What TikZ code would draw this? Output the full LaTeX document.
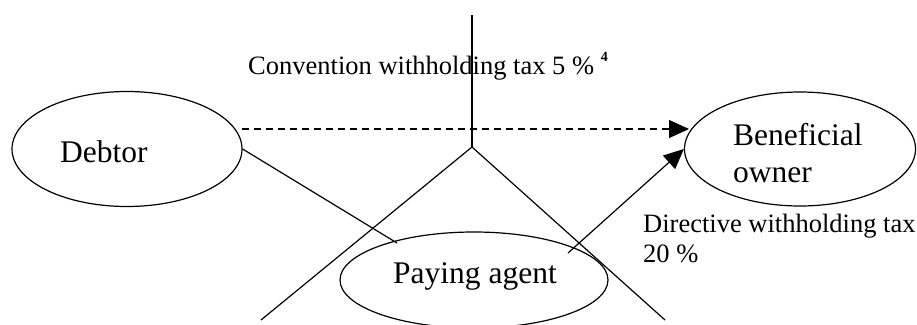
\documentclass[tikz,border=0pt]{standalone}
\usepackage{fontspec}
\setmainfont{Liberation Serif}
\usetikzlibrary{shapes.geometric,arrows.meta}
\tikzset{
  party/.style={draw, shape=ellipse, inner sep=0pt, line width=1.2pt},
  bigtxt/.style={inner sep=0pt, anchor=base west, font=\fontsize{31.5}{37}\selectfont},
  smalltxt/.style={inner sep=0pt, anchor=base west, font=\fontsize{26.5}{30}\selectfont},
  conn/.style={line width=1.2pt},
  tip/.style={-{Triangle[length=20pt,width=18pt]}}
}
\begin{document}
\begin{tikzpicture}[x=1pt,y=-1pt]
\useasboundingbox (0,0) rectangle (917,324);
% parties
\node[party, minimum width=230pt, minimum height=115pt] (debtor) at (127,149) {};
\node[party, minimum width=231pt, minimum height=114pt] (bo) at (800,149) {};
\node[party, minimum width=268pt, minimum height=96pt] (pa) at (474,280) {};
\node[bigtxt] (debtorT) at (60,162) {Debtor};
\node[bigtxt] (boT1) at (733,145) {Beneficial};
\node[bigtxt] (boT2) at (733,182) {owner};
\node[bigtxt] (paT) at (393,283) {Paying agent};
% labels
\node[smalltxt] (conv) at (248,74) {Convention withholding tax 5 \% \raisebox{13pt}{\fontsize{14}{14}\selectfont\bfseries 4}};
\node[smalltxt] (dir1) at (643,232) {Directive withholding tax};
\node[smalltxt] (dir2) at (643,262) {20 \%};
% border cross
\coordinate (top) at (472,15);
\coordinate (apex) at (472,147);
\coordinate (bl) at (261,320);
\coordinate (br) at (665,320);
\draw[conn] (top) -- (apex);
\draw[conn] (bl) -- (apex) -- (br);
% connectors
\coordinate (dashS) at (242,129);
\coordinate (dashE) at (689,129);
\coordinate (paIn) at (397,243);
\coordinate (paOut) at (568,253);
\draw[conn, dash pattern=on 7pt off 5pt, tip] (dashS) -- (dashE);
\draw[conn] (debtor.east) -- (paIn);
\draw[conn, tip] (paOut) -- (bo.west);
\end{tikzpicture}
\end{document}
